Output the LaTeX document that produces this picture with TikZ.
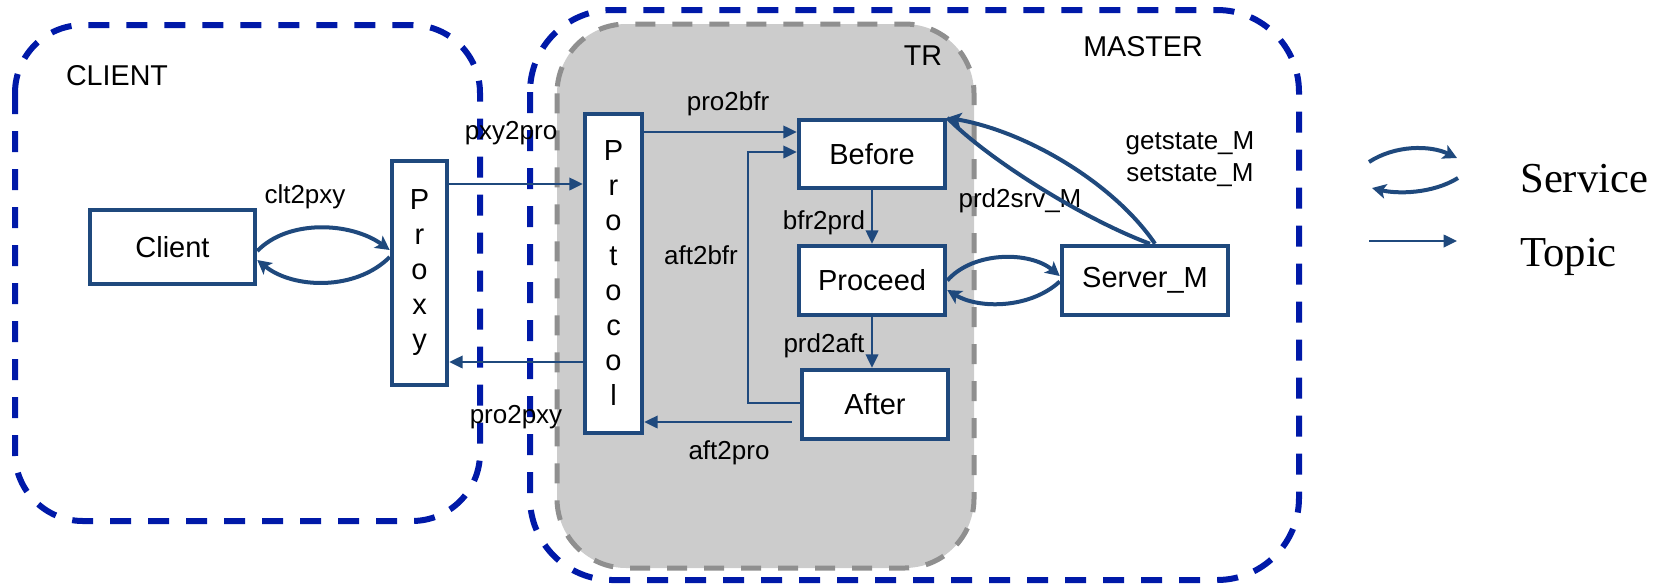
\documentclass[tikz,border=0pt]{standalone}
\usepackage{fontspec}
\setmainfont{Liberation Sans}
\newfontfamily\lgserif{Liberation Serif}
\usetikzlibrary{arrows.meta,calc}
\definecolor{boxblue}{RGB}{31,73,125}
\definecolor{regblue}{RGB}{0,25,168}
\definecolor{trfill}{RGB}{204,204,204}
\definecolor{trgray}{RGB}{143,143,143}
\newcommand{\bxfont}{\fontsize{21.75pt}{26.25pt}\selectfont}
\newcommand{\lbfont}{\fontsize{19.5pt}{23.25pt}\selectfont}
\newcommand{\rgfont}{\fontsize{21.5pt}{26pt}\selectfont}
\newcommand{\lgfont}{\lgserif\fontsize{32pt}{38pt}\selectfont}
\begin{document}
\begin{tikzpicture}[x=0.75pt,y=-0.75pt,
 region/.style={draw=regblue,line width=4.5pt,dash pattern=on 15.75pt off 12.75pt},
 trregion/.style={draw=trgray,fill=trfill,line width=3.75pt,dash pattern=on 15pt off 12.75pt,rounded corners=52pt},
 box/.style={draw=boxblue,fill=white,line width=3.4pt,inner sep=0pt,font=\bxfont},
 vbox/.style={box,align=center},
 lbl/.style={inner sep=0pt,font=\lbfont,text height=13.96pt,text depth=0pt},
 rlbl/.style={inner sep=0pt,font=\rgfont,text height=15.4pt,text depth=0pt},
 lgd/.style={inner sep=0pt,font=\lgfont,anchor=west,text height=21.2pt,text depth=0pt},
 topic/.style={draw=boxblue,line width=1.1pt,-{Triangle[length=10pt,width=9.5pt]}},
 svcline/.style={draw=boxblue,line width=3pt},
 service/.style={svcline,-{Stealth[length=10.5pt,width=11pt,inset=2.5pt]}},
]
\useasboundingbox (0,0) rectangle (1666,583);

% regions
\draw[region,rounded corners=61.5pt] (530,10) rectangle (1299,580);
\draw[trregion] (557,24) rectangle (974,568);
\draw[region,rounded corners=51pt] (15,25) rectangle (480,521);

% region labels
\node[rlbl] (lclient) at (117,75.5) {CLIENT};
\node[rlbl] (lmaster) at (1143,46) {MASTER};
\node[rlbl] (ltr) at (923,55) {TR};

% boxes
\node[box,minimum width=123.75pt,minimum height=55.5pt] (client) at (172.5,247) {Client};
\node[vbox,minimum width=41.25pt,minimum height=168pt] (proxy) at (419.5,273) {P\\r\\o\\x\\y};
\node[vbox,minimum width=42.75pt,minimum height=239.25pt] (protocol) at (613.5,273.5) {P\\r\\o\\t\\o\\c\\o\\l};
\node[box,minimum width=109.5pt,minimum height=51pt] (before) at (872,154) {Before};
\node[box,minimum width=109.5pt,minimum height=51.75pt] (proceed) at (872,280.5) {Proceed};
\node[box,minimum width=109.5pt,minimum height=51.75pt] (after) at (875,404.5) {After};
\node[box,minimum width=124.5pt,minimum height=51.75pt] (server) at (1145,280.5) {Server\_M};

% edge labels
\node[lbl] (lclt) at (305,194) {clt2pxy};
\node[lbl] (lpxy) at (511,130) {pxy2pro};
\node[lbl] (lpro2pxy) at (516,414) {pro2pxy};
\node[lbl] (lpro2bfr) at (728,101) {pro2bfr};
\node[lbl] (laft2bfr) at (701,255) {aft2bfr};
\node[lbl] (laft2pro) at (729,450) {aft2pro};
\node[lbl] (lbfr) at (824,220) {bfr2prd};
\node[lbl] (lprd) at (824,343.5) {prd2aft};
\node[lbl] (lsrv) at (1020,198) {prd2srv\_M};
\node[lbl] (lget) at (1190,140) {getstate\_M};
\node[lbl] (lset) at (1190,172) {setstate\_M};

% topic connectors
\coordinate (y184) at (0,184);
\coordinate (y362) at (0,362);
\coordinate (y132) at (0,132);
\coordinate (y152) at (0,152);
\coordinate (y403) at (0,403);
\coordinate (y422) at (0,422);
\coordinate (x748) at (748,0);
\draw[topic] (proxy.east |- y184) -- (protocol.west |- y184);
\draw[topic] (protocol.west |- y362) -- (proxy.east |- y362);
\draw[topic] (protocol.east |- y132) -- (before.west |- y132);
\draw[topic] (after.west |- y403) -- (x748 |- y403) -- (x748 |- y152) -- (before.west |- y152);
\path (after.west |- y422) ++(-8,0) coordinate (a2ps);
\draw[topic] (a2ps) -- (protocol.east |- y422);
\draw[topic] (before.south) -- (proceed.north);
\draw[topic] (proceed.south) -- (proceed.south |- after.north);

% service connectors
\draw[service] ($(client.east)+(0,4)$) .. controls +(31,-32) and +(-39,-28) .. ($(proxy.west)+(0,-23)$);
\draw[service] ($(proxy.west)+(0,-16)$) .. controls +(-34,34) and +(36,29) .. ($(client.east)+(0,13)$);
\draw[service] (proceed.east) .. controls +(26,-29.5) and +(-30,-25) .. ($(server.west)+(0,-4.5)$);
\draw[service] ($(server.west)+(0,1)$) .. controls +(-30,27.5) and +(31,19) .. ($(proceed.east)+(0,9.5)$);
\draw[service] ($(server.north)+(10,0)$) .. controls +(-40,-59) and +(81,14) .. (before.north east);
\draw[svcline] (before.north east) .. controls +(41,42) and +(-65,-24) .. ($(server.north)+(5,0)$);

% legend
\coordinate (lsa) at (1369,162);
\coordinate (lsb) at (1457,158);
\coordinate (lsc) at (1458,178);
\coordinate (lsd) at (1372,188);
\coordinate (lta) at (1369,241);
\coordinate (ltb) at (1457,241);
\draw[service] (lsa) .. controls (1395,145) and (1430,145) .. (lsb);
\draw[service] (lsc) .. controls (1432,194) and (1397,194) .. (lsd);
\draw[topic] (lta) -- (ltb);
\node[lgd] (lservice) at (1520,178.5) {Service};
\node[lgd] (ltopic) at (1520,252.5) {Topic};
\end{tikzpicture}
\end{document}
